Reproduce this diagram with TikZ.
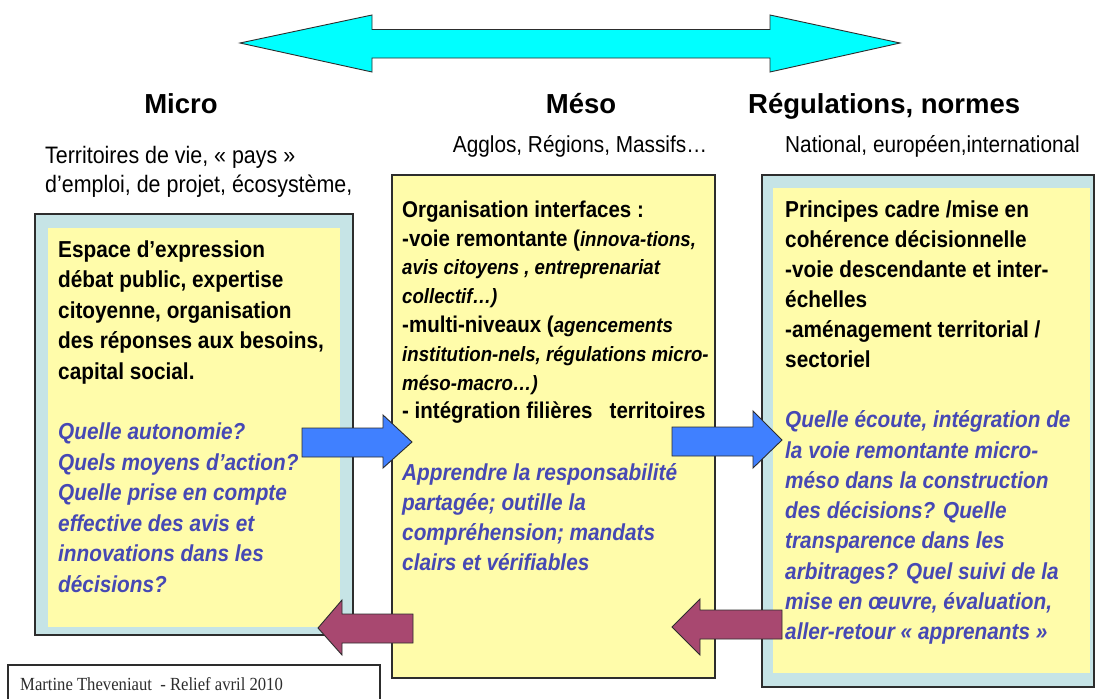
\documentclass[tikz,border=0pt]{standalone}
\usepackage{fontspec}
\setmainfont{Liberation Sans}
\newfontfamily\condfont{Liberation Sans}[FakeStretch=0.9]
\newfontfamily\timesfont{Liberation Serif}[FakeStretch=0.9]
\definecolor{lblue}{RGB}{198,228,230}
\definecolor{pyellow}{RGB}{255,252,170}
\definecolor{qblue}{RGB}{70,72,180}
\definecolor{arrblue}{RGB}{64,128,255}
\definecolor{arrpurple}{RGB}{168,72,112}
\definecolor{arrcyan}{RGB}{0,255,255}
\definecolor{edgegray}{RGB}{45,45,45}
\newcommand\titlef{\fontsize{27.5}{32}\selectfont\bfseries}
\newcommand\subf{\condfont\fontsize{23.1}{29}\selectfont}
\newcommand\subl{\condfont\fontsize{23.8}{29}\selectfont}
\newcommand\leftb{\condfont\fontsize{23.1}{30.5}\selectfont\bfseries}
\newcommand\midb{\condfont\fontsize{22.8}{28.8}\selectfont\bfseries}
\newcommand\midi{\fontsize{20.7}{28.8}\selectfont\bfseries\itshape}
\newcommand\midq{\condfont\fontsize{23.1}{30}\selectfont\bfseries\itshape}
\newcommand\rightb{\condfont\fontsize{23.1}{30}\selectfont\bfseries}
\newcommand\rightq{\condfont\fontsize{23.1}{30.3}\selectfont\bfseries\itshape}
\newcommand\firstline{\rule{0pt}{24pt}}
\begin{document}
\begin{tikzpicture}[x=1pt,y=-1pt,
  txt/.style={inner sep=0pt, anchor=north west, align=left},
  lbl/.style={inner sep=0pt, anchor=base},
  lblw/.style={inner sep=0pt, anchor=base west},
  boxedge/.style={draw=edgegray, line width=1.4pt},
  blockarrow/.style={draw=edgegray, line width=0.9pt, line join=miter}]
\useasboundingbox (0,0) rectangle (1096,699);
\fill[white] (0,0) rectangle (1096,699);

% big double arrow
\filldraw[blockarrow, fill=arrcyan] (240,43) -- (372,15) -- (372,29.5) -- (770,29.5) -- (770,15) -- (900,43) -- (770,72) -- (770,58) -- (372,58) -- (372,72) -- cycle;

% headings
\node[lbl, font=\titlef] (micro) at (181,113) {Micro};
\node[lbl, font=\titlef] (meso) at (581,113) {Méso};
\node[lblw, font=\titlef] (regul) at (748,113) {Régulations, normes};
\node[lblw, font=\subl] (terr) at (45,163) {Territoires de vie, « pays »};
\node[lblw, font=\subl] (empl) at (45,192) {d’emploi, de projet, écosystème,};
\node[lbl, font=\subf] (agglo) at (580,152) {Agglos, Régions, Massifs…};
\node[lblw, font=\subf] (natio) at (785,152) {National, européen,international};

% boxes
\filldraw[boxedge, fill=lblue] (35,214) rectangle (353,635);
\fill[pyellow] (48,228) rectangle (340,627);
\filldraw[boxedge, fill=pyellow] (392,175) rectangle (715,678);
\filldraw[boxedge, fill=lblue] (762,175) rectangle (1094,687);
\fill[pyellow] (773,188) rectangle (1090,673);

% blue arrows (right)
\filldraw[blockarrow, fill=arrblue] (302,428) -- (383,428) -- (383,415) -- (412,442) -- (383,468) -- (383,457) -- (302,457) -- cycle;
\filldraw[blockarrow, fill=arrblue] (672,427) -- (753,427) -- (753,411) -- (782,440) -- (753,468) -- (753,456) -- (672,456) -- cycle;
% purple arrows (left)
\filldraw[blockarrow, fill=arrpurple] (413,614) -- (342,614) -- (342,600) -- (318,628) -- (342,655) -- (342,643) -- (413,643) -- cycle;
\filldraw[blockarrow, fill=arrpurple] (782,610) -- (700,610) -- (700,599) -- (672,627) -- (700,655) -- (700,639) -- (782,639) -- cycle;

% left box text
\node[txt, font=\leftb] (lb1) at (58,233) {\firstline Espace d’expression\\débat public, expertise\\citoyenne, organisation\\des réponses aux besoins,\\capital social.};
\node[txt, font=\leftb\itshape, text=qblue] (lb2) at (58,415.5) {\firstline Quelle autonomie?\\Quels moyens d’action?\\Quelle prise en compte\\effective des avis et\\innovations dans les\\décisions?};

% middle box text
\node[txt, font=\midb] (mb1) at (402,193) {\firstline Organisation interfaces :\\-voie remontante ({\midi innova-tions,}\\{\midi avis citoyens , entreprenariat}\\{\midi collectif…)}\\-multi-niveaux ({\midi agencements}\\{\midi institution-nels, régulations micro-}\\{\midi méso-macro…)}\\- intégration filières \ \ territoires};
\node[txt, font=\midq, text=qblue] (mb2) at (402,456.5) {\firstline Apprendre la responsabilité\\partagée; outille la\\compréhension; mandats\\clairs et vérifiables};

% right box text
\node[txt, font=\rightb] (rb1) at (785,193) {\firstline Principes cadre /mise en\\cohérence décisionnelle\\-voie descendante et inter-\\échelles\\-aménagement territorial /\\sectoriel};
\node[txt, font=\rightq, text=qblue] (rb2) at (785,403.5) {\firstline Quelle écoute, intégration de\\la voie remontante micro-\\méso dans la construction\\des décisions? Quelle\\transparence dans les\\arbitrages? Quel suivi de la\\mise en œuvre, évaluation,\\aller-retour « apprenants »};

% footer
\draw[edgegray, line width=1.2pt] (8,705) -- (8,665) -- (380,665) -- (380,705);
\node[lblw, font=\timesfont\fontsize{18.5}{20}\selectfont, text=edgegray] (credit) at (20,690) {Martine Theveniaut \ - Relief avril 2010};
\end{tikzpicture}
\end{document}
